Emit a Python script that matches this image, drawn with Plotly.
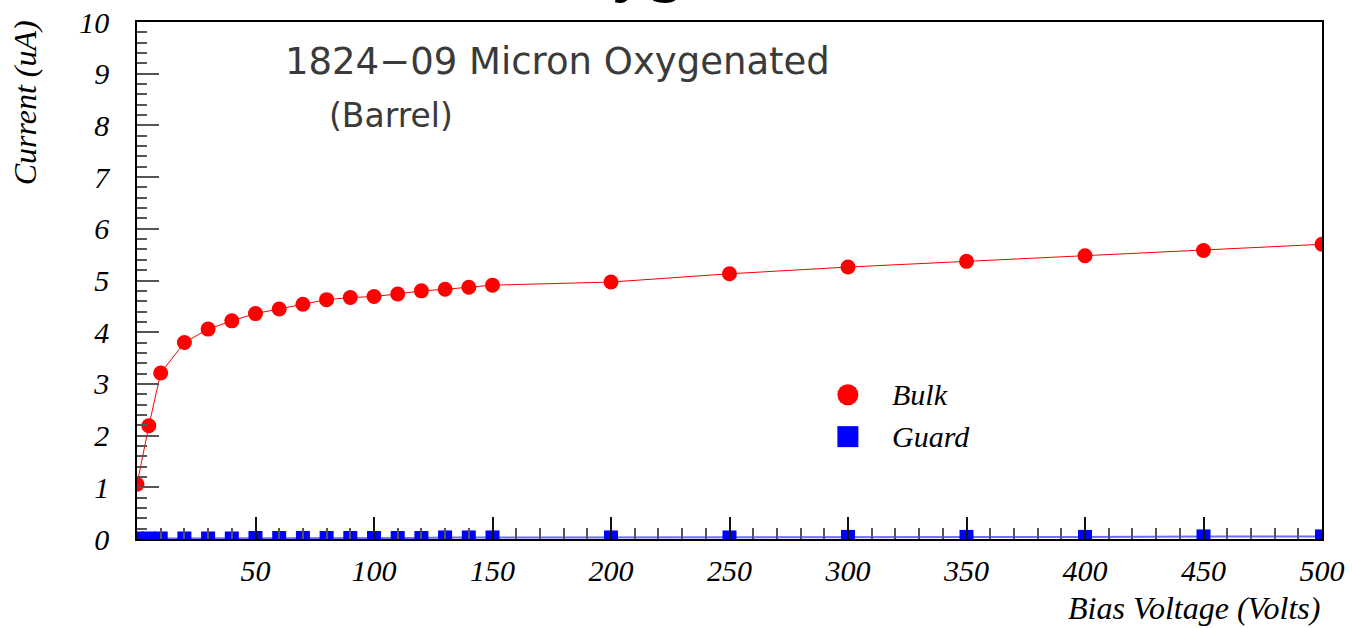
import plotly.graph_objects as go

# Bias scan of sensor 1824-09 (Micron, oxygenated, barrel)
bias_volts = [0, 5, 10, 20, 30, 40, 50, 60, 70, 80, 90, 100, 110, 120,
              130, 140, 150, 200, 250, 300, 350, 400, 450, 500]
bulk_current = [1.06, 2.19, 3.21, 3.80, 4.06, 4.22, 4.36, 4.45, 4.54, 4.63,
                4.67, 4.69, 4.74, 4.80, 4.83, 4.87, 4.91, 4.97, 5.13, 5.26,
                5.37, 5.48, 5.58, 5.70]
guard_current = [0.01, 0.01, 0.01, 0.01, 0.01, 0.01, 0.02, 0.02, 0.02, 0.02,
                 0.02, 0.02, 0.02, 0.02, 0.03, 0.03, 0.03, 0.03, 0.03, 0.04,
                 0.04, 0.04, 0.05, 0.05]

x_ticks = [50, 100, 150, 200, 250, 300, 350, 400, 450, 500]
y_ticks = list(range(0, 11))

serif = "Liberation Serif, Times New Roman, serif"
thin = "DejaVu Sans, sans-serif"

fig = go.Figure()

fig.add_trace(go.Scatter(
    x=bias_volts, y=guard_current, mode="lines+markers", name="Guard",
    line=dict(color="rgba(60,60,255,0.75)", width=2),
    marker=dict(symbol="square", size=14, color="#0000ff"),
    showlegend=False,
))
fig.add_trace(go.Scatter(
    x=bias_volts, y=bulk_current, mode="lines+markers", name="Bulk",
    line=dict(color="#ff0000", width=1),
    marker=dict(symbol="circle", size=15, color="#ff0000"),
    showlegend=False,
))

# Legend keys drawn as fixed-size shapes next to their labels
legend_items = [("Bulk", "circle", "#ff0000", 0.279),
                ("Guard", "rect", "#0000ff", 0.198)]
for label, kind, color, ypos in legend_items:
    fig.add_shape(type=kind, xref="paper", yref="paper",
                  xsizemode="pixel", ysizemode="pixel",
                  xanchor=0.5999, yanchor=ypos,
                  x0=-10.5, x1=10.5, y0=-10.5, y1=10.5,
                  fillcolor=color, line=dict(width=0))
    fig.add_annotation(x=0.6355, y=ypos, xref="paper", yref="paper",
                       xanchor="left", yanchor="middle", showarrow=False,
                       text=label,
                       font=dict(family=serif, size=30, color="black", style="italic"))

# Page heading, mostly above the visible canvas
fig.add_annotation(x=0.336, y=1.031, xref="paper", yref="paper",
                   xanchor="left", yanchor="bottom", showarrow=False,
                   text="Oxygenated",
                   font=dict(family=serif, size=72, color="black", style="italic"))

fig.add_annotation(x=0.1234, y=0.9227, xref="paper", yref="paper",
                   xanchor="left", yanchor="middle", showarrow=False,
                   text="1824\u221209 Micron Oxygenated",
                   font=dict(family=thin, size=37, color="#3a3a3a"))
fig.add_annotation(x=0.1605, y=0.8182, xref="paper", yref="paper",
                   xanchor="left", yanchor="middle", showarrow=False,
                   text="(Barrel)",
                   font=dict(family=thin, size=33, color="#3a3a3a"))

# Axis titles placed at the far ends of the axes
fig.add_annotation(x=-0.0942, y=0.8434, xref="paper", yref="paper",
                   xanchor="center", yanchor="middle", showarrow=False,
                   textangle=-90, text="Current (uA)",
                   font=dict(family=serif, size=32, color="black", style="italic"))
fig.add_annotation(x=1.0, y=-0.1328, xref="paper", yref="paper",
                   xanchor="right", yanchor="middle", showarrow=False,
                   text="Bias Voltage (Volts)",
                   font=dict(family=serif, size=32, color="black", style="italic"))

tick_font = dict(family=serif, size=30, color="black", style="italic")

fig.update_xaxes(
    range=[0, 500], tickmode="array", tickvals=x_ticks,
    ticktext=[str(v) for v in x_ticks],
    ticks="inside", ticklen=22, tickwidth=1.5, tickcolor="#111",
    minor=dict(ticks="inside", ticklen=11, dtick=10, tick0=0,
               tickwidth=1.5, tickcolor="#555", showgrid=False),
    showline=True, linecolor="black", linewidth=1.5, mirror=True,
    showgrid=False, zeroline=False, tickfont=tick_font,
    ticklabelstandoff=4, automargin=False,
)
fig.update_yaxes(
    range=[0, 10], tickmode="array", tickvals=y_ticks,
    ticktext=[str(v) for v in y_ticks],
    ticks="inside", ticklen=22, tickwidth=1.5, tickcolor="#555",
    minor=dict(ticks="inside", ticklen=10, dtick=0.2, tick0=0,
               tickwidth=1.5, tickcolor="#555", showgrid=False),
    showline=True, linecolor="black", linewidth=1.5, mirror=True,
    showgrid=False, zeroline=False, tickfont=tick_font,
    ticklabelstandoff=20, automargin=False,
)

fig.update_layout(
    width=1352, height=628,
    margin=dict(l=137, r=30, t=22, b=89),
    paper_bgcolor="white", plot_bgcolor="white",
)

fig.write_html("out.html")
